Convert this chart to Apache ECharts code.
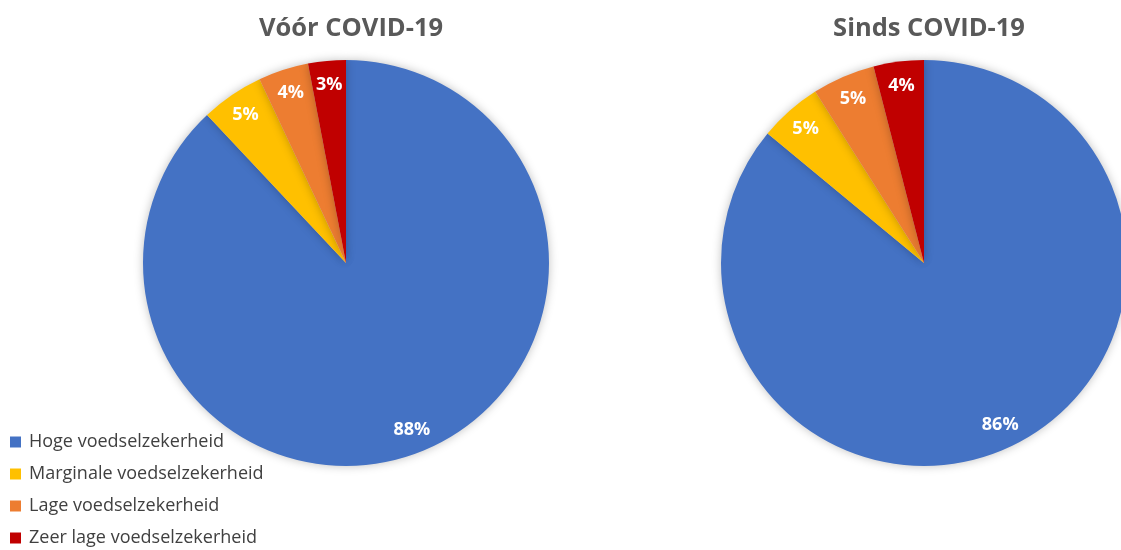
<!DOCTYPE html>
<html><head><meta charset="utf-8">
<script src="https://cdn.jsdelivr.net/npm/echarts@6/dist/echarts.min.js"></script>
<style>html,body{margin:0;padding:0;background:#fff}#c{width:1121px;height:550px}</style>
</head><body><div id="c"></div>
<script>
const categories = ['Hoge voedselzekerheid','Marginale voedselzekerheid','Lage voedselzekerheid','Zeer lage voedselzekerheid'];
const voorValues = [88, 5, 4, 3];
const sindsValues = [86, 5, 5, 4];
const titles = ['Vóór COVID-19', 'Sinds COVID-19'];
const colors = ['#4472C4', '#FFC000', '#ED7D31', '#C00000'];

const centers = [[346, 263], [924, 263]];
const R = 203;
const chart = echarts.init(document.getElementById('c'));
const sets = [voorValues, sindsValues];
const series = [];
sets.forEach((vals, i) => {
  const data = categories.map((n, k) => ({name: n, value: vals[k], itemStyle: {color: colors[k]}}));
  series.push({
    type: 'pie', center: centers[i], radius: [0, R], startAngle: 90, clockwise: true,
    data: data, label: {show: false}, labelLine: {show: false}, silent: true,
    itemStyle: {shadowBlur: 10, shadowColor: 'rgba(0,0,0,0.25)', borderWidth: 0},
    emphasis: {disabled: true}
  });
});
sets.forEach((vals, i) => {
  const data = categories.map((n, k) => ({name: n, value: vals[k]}));
  series.push({
    type: 'pie', center: centers[i], radius: [R - 54, R], startAngle: 90, clockwise: true,
    data: data, silent: true, itemStyle: {color: 'rgba(0,0,0,0)', borderWidth: 0},
    label: {show: true, position: 'inside', formatter: '{c}%', color: '#fff', fontWeight: 'bold',
      fontSize: 18, fontFamily: 'Open Sans'},
    labelLine: {show: false}, emphasis: {disabled: true}
  });
});
chart.setOption({
  animation: false,
  color: colors,
  title: titles.map((t, i) => ({
    text: t, left: centers[i][0], top: 11, textAlign: 'center',
    textStyle: {fontSize: 25.5, fontWeight: 'bold', color: '#595959', fontFamily: 'Open Sans'}
  })),
  legend: {
    orient: 'vertical', left: 10, top: 433, padding: 0, itemWidth: 11, itemHeight: 11, itemGap: 14,
    icon: 'rect', data: categories,
    textStyle: {fontSize: 18, lineHeight: 18, color: '#404040', fontFamily: 'Open Sans', padding: [0,0,0,3]}
  },
  series: series
});
</script></body></html>
